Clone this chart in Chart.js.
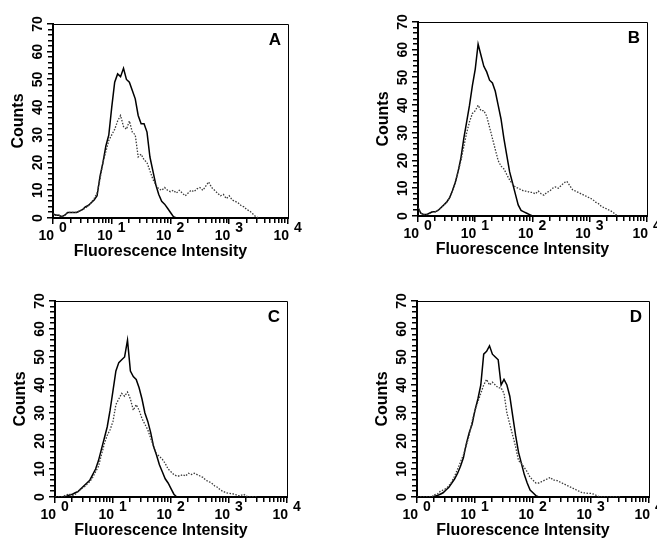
<!DOCTYPE html>
<html>
<head>
<meta charset="utf-8">
<script src="https://cdn.jsdelivr.net/npm/chart.js@4.4.1/dist/chart.umd.min.js"></script>
<style>
  body { margin: 0; background: #fff; }
  #wrap { position: relative; width: 657px; height: 538px; overflow: hidden; background: #fff; }
  #wrap canvas { position: absolute; left: 0; top: 0; }
</style>
</head>
<body>
<div id="wrap">
  <canvas id="panelA" width="657" height="538"></canvas>
  <canvas id="panelB" width="657" height="538"></canvas>
  <canvas id="panelC" width="657" height="538"></canvas>
  <canvas id="panelD" width="657" height="538"></canvas>
</div>
<script>
// histogram channels, in decades (log10 of fluorescence intensity)
const decades = [0,0.05,0.1,0.15,0.2,0.25,0.3,0.35,0.4,0.45,0.5,0.55,0.6,0.65,0.7,0.75,0.8,0.85,0.9,0.95,
  1,1.05,1.1,1.15,1.2,1.25,1.3,1.35,1.4,1.45,1.5,1.55,1.6,1.65,1.7,1.75,1.8,1.85,1.9,1.95,
  2,2.05,2.1,2.15,2.2,2.25,2.3,2.35,2.4,2.45,2.5,2.55,2.6,2.65,2.7,2.75,2.8,2.85,2.9,2.95,
  3,3.05,3.1,3.15,3.2,3.25,3.3,3.35,3.4,3.45,3.5];

const countTicks = [0, 10, 20, 30, 40, 50, 60, 70];
const countMinorTicks = [0,2,4,6,8,10,12,14,16,18,20,22,24,26,28,30,32,34,36,38,
  40,42,44,46,48,50,52,54,56,58,60,62,64,66,68,70];
const exponentTicks = [0, 1, 2, 3, 4];
const logSteps = [1, 2, 3, 4, 5, 6, 7, 8, 9];

// Panel A
const solidA = [1.5,1,1,0.5,1,2,2,2,2,2.5, 3,4,4.5,5.5,6.5,8,15,20,26,30,
  40,49,52,51,54,50,49,46,43,37, 34,34,31,22,17,12,8.5,6,5,3.5,
  2,0.5,0,0,0,0,0,0,0,0, 0,0,0,0,0,0,0,0,0,0,
  0,0,0,0,0,0,0,0,0,0,0];
const dottedA = [1.5,1,1,0.5,1,2,2,2,2,2.5, 3,3.5,4.5,5.5,7,9,14,20,24,28,
  30,32,35,37,33,32,35,31,30,22, 23,21,20,17,14,12,10.5,10,11,10,
  9.5,10,9,10,9,8,9,10,9.5,10.5, 11,10,11.5,13,11,10,9,8,8.5,7,
  8,6.5,6,5.5,4.5,4,3,2.5,1.5,0.5,0];

// Panel B
const solidB = [3,1,0.5,0.5,1,1.5,1.5,2,3,4, 5,6.5,9,12,16,21,28,34,40,47,
  53,62,58,54,52,49,48,45,40,35, 28,22,16,12,8,4,2,1.5,1,0.5,
  0,0,0,0,0,0,0,0,0,0, 0,0,0,0,0,0,0,0,0,0,
  0,0,0,0,0,0,0,0,0,0,0];
const dottedB = [3,1,0.5,0.5,1,1.5,1.5,2,3,4, 5,6.5,9,12,16,20,25,30,34,37,
  38,40,38,38,36,32,28,24,20,18, 17,15,13,11.5,10.5,10,9.5,9,9,8.5,
  8.5,8,9,8,7.5,8.5,9,10,10.5,10, 11,12,12.5,11,9.5,9,8.5,8,7.5,7,
  6.5,6,5,4.5,3.5,3,2.5,2,1.5,0.5,0];

// Panel C
const solidC = [0,0,0,0,0.3,0.7,1,1.5,2,3, 4,5,6,8,10,13,17,21,25,31,
  38,45,48,49,50,56,45,43,42,39, 35,30,27,23,18,15,11.5,9,6.5,5,
  3,1,0,0,0,0,0,0,0,0, 0,0,0,0,0,0,0,0,0,0,
  0,0,0,0,0,0,0,0,0,0,0];
const dottedC = [0,0,0,0.3,0.8,1,0.5,1,2,3, 3.5,4.5,5.5,7,9,11,15,19,22,24,
  27,33,35,37,36,37.5,35,31,33,31, 28,26,24,21,18,15.5,14.5,13.5,12,10,
  9,8,7.5,7.5,8,7.5,8.5,8,8.5,8, 7.5,7,6,5.5,5,4,3.5,2.5,2,1.5,
  1.3,1.2,1,0.5,0.5,1,0.3,0,0,0,0];

// Panel D
const solidD = [0,0,0,0,0,0,0.3,0.5,1,1.5, 2.5,3.5,5,6.5,8.5,11,14,19,23,26,
  31,35,40,51,52,54,51,50,49,40, 42,40,36,29,22,16,12,8,5,2.5,
  1.5,0.5,0,0,0,0,0,0,0,0, 0,0,0,0,0,0,0,0,0,0,
  0,0,0,0,0,0,0,0,0,0,0];
const dottedD = [0,0,0,0,0,0,0.8,1,2,2.5, 3,4,5.5,7.5,10,12.5,15,18.5,22,27,
  31,34,37,40,42,40,41,40,39,39, 37,30,26,22,18,13,12,10.5,9,7,
  6,5,5,5.5,6,6.5,7,6,6,5.5, 5,4.5,4,3.5,3,2.5,2,1.5,1.5,1.3,
  1.3,1,0.5,0,0,0,0,0,0,0,0];

// where each plot box sits on the page: left, top, right, bottom
const panels = [
  { id: 'panelA', letter: 'A', box: [53, 24, 288, 218], solid: solidA, dotted: dottedA },
  { id: 'panelB', letter: 'B', box: [418, 22, 647, 216], solid: solidB, dotted: dottedB },
  { id: 'panelC', letter: 'C', box: [55, 301, 287, 497], solid: solidC, dotted: dottedC },
  { id: 'panelD', letter: 'D', box: [417, 301, 649, 497], solid: solidD, dotted: dottedD }
];

const FONT = '"Liberation Sans", Arial, Helvetica, sans-serif';

function toPoints(values) {
  return values.map((v, i) => ({ x: Math.pow(10, decades[i]), y: v }));
}

const panelText = {
  id: 'panelText',
  afterDraw(chart, args, opts) {
    const { ctx, chartArea: a, scales: { x, y } } = chart;
    ctx.save();
    ctx.setLineDash([]);
    ctx.strokeStyle = '#000';
    ctx.fillStyle = '#000';
    ctx.lineWidth = 1;
    ctx.beginPath();
    // thin frame on top and right
    ctx.moveTo(a.left, a.top + 0.5);
    ctx.lineTo(a.right + 0.5, a.top + 0.5);
    ctx.lineTo(a.right + 0.5, a.bottom);
    ctx.stroke();

    // tick marks: log minors along x, every 2 counts along y
    exponentTicks.forEach(e => {
      logSteps.forEach(s => {
        const v = s * Math.pow(10, e);
        if (v > 10000) return;
        const px = Math.round(x.getPixelForValue(v));
        ctx.fillRect(px - 1, a.bottom + 1, 1.5, s === 1 ? 5 : 4);
      });
    });
    countMinorTicks.forEach(v => {
      const py = Math.round(y.getPixelForValue(v));
      const len = v % 10 === 0 ? 5 : 4;
      ctx.fillRect(a.left - 1 - len, py - 1, len, 1.5);
    });

    ctx.font = 'bold 14px ' + FONT;
    // y tick labels, turned like the axis title
    countTicks.forEach(v => {
      const py = y.getPixelForValue(v);
      ctx.save();
      ctx.translate(a.left - 15, py);
      ctx.rotate(-Math.PI / 2);
      ctx.textAlign = 'center';
      ctx.textBaseline = 'middle';
      ctx.fillText(String(v), 0, 0);
      ctx.restore();
    });
    // x tick labels 10^n
    ctx.textBaseline = 'alphabetic';
    exponentTicks.forEach(e => {
      const px = x.getPixelForValue(Math.pow(10, e));
      ctx.textAlign = 'right';
      ctx.fillText('10', px + 1, a.bottom + 22);
      ctx.textAlign = 'left';
      ctx.fillText(String(e), px + 6, a.bottom + 14);
    });

    ctx.font = 'bold 16px ' + FONT;
    ctx.textAlign = 'center';
    ctx.fillText('Fluorescence Intensity', (a.left + a.right) / 2 - 10, a.bottom + 38);

    ctx.save();
    ctx.translate(a.left - 34, (a.top + a.bottom) / 2);
    ctx.rotate(-Math.PI / 2);
    ctx.textBaseline = 'middle';
    ctx.fillText('Counts', 0, 0);
    ctx.restore();

    ctx.font = 'bold 17px ' + FONT;
    ctx.textAlign = 'right';
    ctx.fillText(opts.letter, a.right - 7, a.top + 21);
    ctx.restore();
  }
};

function drawPanel(p) {
  const [left, top, right, bottom] = p.box;
  const canvas = document.getElementById(p.id);
  new Chart(canvas.getContext('2d'), {
    type: 'line',
    data: {
      datasets: [{
        data: toPoints(p.dotted),
        borderColor: '#3a3a3a',
        borderWidth: 1.3,
        borderDash: [1.5, 1.5],
        pointRadius: 0,
        tension: 0
      }, {
        data: toPoints(p.solid),
        borderColor: '#000',
        borderWidth: 1.5,
        pointRadius: 0,
        tension: 0
      }]
    },
    options: {
      responsive: false,
      animation: false,
      events: [],
      layout: {
        padding: { left: left, top: top, right: 657 - right, bottom: 538 - bottom }
      },
      plugins: {
        legend: { display: false },
        tooltip: { enabled: false },
        panelText: { letter: p.letter }
      },
      scales: {
        x: {
          type: 'logarithmic',
          min: 1,
          max: 10000,
          ticks: { display: false },
          grid: { drawOnChartArea: false, drawTicks: false },
          border: { display: true, color: '#000', width: 2 }
        },
        y: {
          type: 'linear',
          min: 0,
          max: 70,
          ticks: { display: false },
          grid: { drawOnChartArea: false, drawTicks: false },
          border: { display: true, color: '#000', width: 2 }
        }
      }
    },
    plugins: [panelText]
  });
}

function initializeCharts() {
  panels.forEach(drawPanel);
}

if (document.readyState === 'loading') {
  document.addEventListener('DOMContentLoaded', initializeCharts);
} else {
  initializeCharts();
}
</script>
</body>
</html>
